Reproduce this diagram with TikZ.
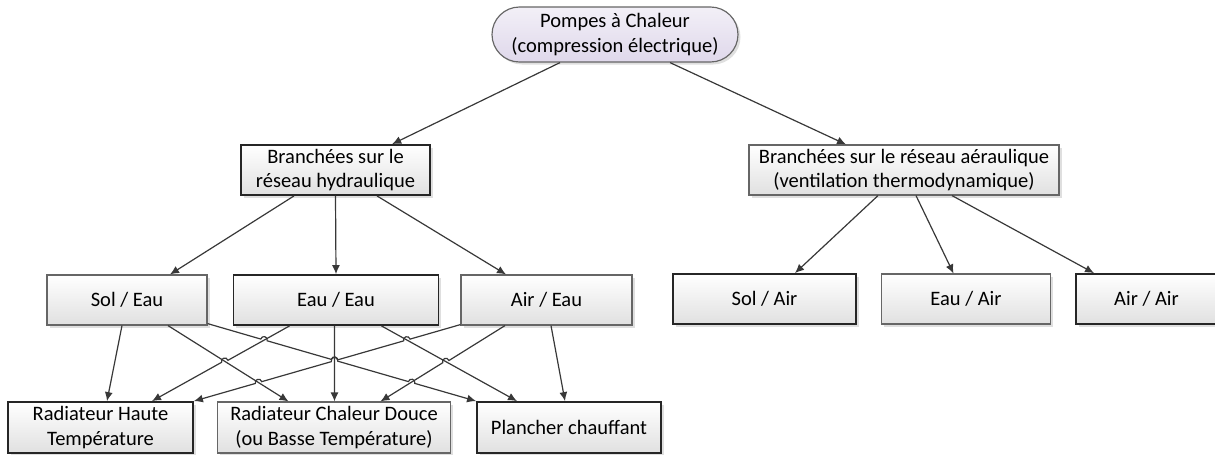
\documentclass[tikz,border=0pt]{standalone}
\usepackage{fontspec}
\setmainfont{Carlito}
\usetikzlibrary{arrows.meta, positioning, shadows, calc, intersections}
\definecolor{lavender}{RGB}{223,216,235}
\tikzset{
  box/.style={rectangle, draw=black!60, line width=0.7pt, top color=white, bottom color=black!12,
              minimum height=30pt, inner sep=2pt, align=center,
              drop shadow={shadow xshift=1.5pt, shadow yshift=-1.5pt, fill=black!25}},
  boxbold/.style={box, draw=black!85, line width=1.1pt},
  pacnode/.style={box, rounded corners=16.5pt, top color=lavender!40!white, bottom color=lavender,
                  minimum width=147.6pt, minimum height=33pt},
  arrow/.style={-{Latex[length=5.4pt, width=4.8pt]}, draw=black!78, line width=0.72pt},
  hopl/.style={bend left=90, looseness=1.7},
  hopr/.style={bend right=90, looseness=1.7}
}
\begin{document}
\begin{tikzpicture}[x=0.6pt, y=0.6pt, every node/.style={font=\fontsize{12.3}{14.8}\selectfont}]
    \useasboundingbox (0,0) rectangle (1215,-454);

    % Root
    \node (pac) [pacnode] at (615,-34.5) {Pompes à Chaleur\\(compression électrique)};

    % Networks
    \node (hydro) [boxbold, minimum width=113.4pt] at (335.5,-170) {Branchées sur le\\réseau hydraulique};
    \node (aero) [box, minimum width=186pt] at (904,-170) {Branchées sur le réseau aéraulique\\(ventilation thermodynamique)};

    % Hydraulic sources
    \node (soleau) [box, minimum width=96pt] at (127,-300) {Sol / Eau};
    \node (eaueau) [boxbold, minimum width=123pt, right=15pt of soleau] {Eau / Eau};
    \node (aireau) [box, minimum width=102.6pt, right=12.6pt of eaueau] {Air / Eau};

    % Aeraulic sources
    \node (solair) [boxbold, minimum width=109.8pt] at (764.5,-299) {Sol / Air};
    \node (eauair) [box, minimum width=101.4pt, right=14.4pt of solair] {Eau / Air};
    \node (airair) [boxbold, minimum width=84.6pt, right=14.4pt of eauair] {Air / Air};

    % Emitters
    \node (radht) [boxbold, minimum width=111pt, minimum height=30.6pt] at (100.5,-427.5) {Radiateur Haute\\Température};
    \node (radbt) [box, minimum width=139.8pt, minimum height=30.6pt, right=13.8pt of radht] {Radiateur Chaleur Douce\\(ou Basse Température)};
    \node (plancher) [boxbold, minimum width=110.4pt, minimum height=30.6pt, right=15pt of radbt] {Plancher chauffant};

    % Root arrows
    \draw[arrow] ([xshift=-33pt]pac.south) -- ([xshift=34pt]hydro.north);
    \draw[arrow] ([xshift=33pt]pac.south) -- ([xshift=-34.8pt]aero.north);

    % Hydraulic arrows
    \draw[arrow] ([xshift=-24.9pt]hydro.south) -- ([xshift=25.8pt]soleau.north);
    \draw[arrow] (hydro.south) -- (eaueau.north);
    \draw[arrow] ([xshift=24.9pt]hydro.south) -- ([xshift=-24.3pt]aireau.north);

    % Aeraulic arrows
    \draw[arrow] ([xshift=-15.6pt]aero.south) -- ([xshift=18.3pt]solair.north);
    \draw[arrow] ([xshift=7.2pt]aero.south) -- ([xshift=-7.5pt]eauair.north);
    \draw[arrow] ([xshift=28.8pt]aero.south) -- ([xshift=-31.5pt]airair.north);

    % Sources to emitters, straight ones
    \draw[arrow] ([xshift=-3pt]soleau.south) -- ([xshift=3.9pt]radht.north);
    \draw[arrow, name path=l2] ([xshift=24.6pt]soleau.south) -- ([xshift=-27.3pt]radbt.north);
    \draw[arrow, name path=l5] ([xshift=-0.9pt]eaueau.south) -- ([xshift=0.3pt]radbt.north);
    \draw[arrow, name path=l6] ([xshift=27.3pt]eaueau.south) -- ([xshift=-31.2pt]plancher.north);
    \draw[arrow] ([xshift=2.7pt]aireau.south) -- ([xshift=-2.4pt]plancher.north);

    % Lines with jumps: find the crossings first
    \path[name path=l3] ([yshift=1.2pt]soleau.south east) -- (plancher.north west);
    \path[name path=l4] ([xshift=-27.9pt]eaueau.south) -- ([xshift=30.9pt]radht.north);
    \path[name path=l7] ([yshift=0.6pt]aireau.south west) -- (radht.north east);
    \path[name path=l8] ([xshift=-24.9pt]aireau.south) -- ([xshift=27.9pt]radbt.north);
    \path[name intersections={of=l3 and l4, by=x34}];
    \path[name intersections={of=l3 and l5, by=x35}];
    \path[name intersections={of=l3 and l8, by=x38}];
    \path[name intersections={of=l7 and l2, by=x72}];
    \path[name intersections={of=l7 and l5, by=x75}];
    \path[name intersections={of=l7 and l6, by=x76}];
    \path[name intersections={of=l4 and l2, by=x42}];
    \path[name intersections={of=l8 and l6, by=x86}];

    \draw[arrow] ([yshift=1.2pt]soleau.south east)
        -- ($(x34)!2pt!(soleau.south east)$) to[hopl] ($(x34)!2pt!(plancher.north west)$)
        -- ($(x35)!2pt!(soleau.south east)$) to[hopl] ($(x35)!2pt!(plancher.north west)$)
        -- ($(x38)!2pt!(soleau.south east)$) to[hopl] ($(x38)!2pt!(plancher.north west)$)
        -- (plancher.north west);
    \draw[arrow] ([yshift=0.6pt]aireau.south west)
        -- ($(x76)!2pt!(aireau.south west)$) to[hopr] ($(x76)!2pt!(radht.north east)$)
        -- ($(x75)!2pt!(aireau.south west)$) to[hopr] ($(x75)!2pt!(radht.north east)$)
        -- ($(x72)!2pt!(aireau.south west)$) to[hopr] ($(x72)!2pt!(radht.north east)$)
        -- (radht.north east);
    \draw[arrow] ([xshift=-27.9pt]eaueau.south)
        -- ($(x42)!2pt!(eaueau.south)$) to[hopr] ($(x42)!2pt!(radht.north)$)
        -- ([xshift=30.9pt]radht.north);
    \draw[arrow] ([xshift=-24.9pt]aireau.south)
        -- ($(x86)!2pt!(aireau.south)$) to[hopr] ($(x86)!2pt!(radbt.north)$)
        -- ([xshift=27.9pt]radbt.north);
\end{tikzpicture}
\end{document}
